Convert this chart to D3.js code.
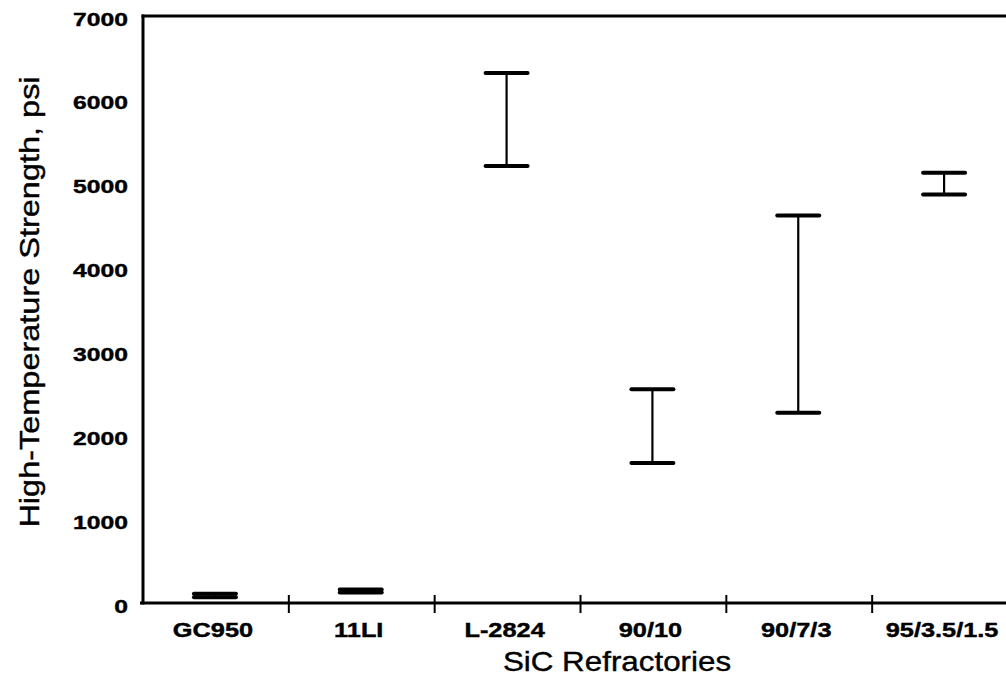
<!DOCTYPE html>
<html>
<head>
<meta charset="utf-8">
<script src="https://cdn.jsdelivr.net/npm/d3@7"></script>
<style>
  html, body { margin: 0; padding: 0; background: #fff; }
  svg { display: block; }
  text { font-family: "Liberation Sans", Arial, Helvetica, sans-serif; fill: #000; }
</style>
</head>
<body>
<svg id="chart" width="1006" height="685"></svg>
<script>
const categories = ["GC950", "11LI", "L-2824", "90/10", "90/7/3", "95/3.5/1.5"];
const lowValues  = [70, 125, 5210, 1670, 2270, 4870];
const highValues = [110, 160, 6320, 2550, 4620, 5130];
const yTicks = [0, 1000, 2000, 3000, 4000, 5000, 6000, 7000];
const xTitle = "SiC Refractories";
const yTitle = "High-Temperature Strength, psi";

const svg = d3.select("#chart");
const mLeft = 143, mRight = 1018, mTop = 16, mBottom = 603;

const x = d3.scaleBand().domain(categories).range([mLeft, mRight]).padding(0);
const y = d3.scaleLinear().domain([0, 7000]).range([mBottom, mTop]);

// frame: left axis, top border
svg.append("line").attr("x1", mLeft).attr("x2", mLeft).attr("y1", mTop - 1.5).attr("y2", mBottom + 1.5)
  .attr("stroke", "#000").attr("stroke-width", 3);
svg.append("line").attr("x1", mLeft - 1.5).attr("x2", 1006).attr("y1", mTop).attr("y2", mTop)
  .attr("stroke", "#000").attr("stroke-width", 3);

// bottom axis
svg.append("line").attr("x1", mLeft - 3).attr("x2", 1006).attr("y1", mBottom).attr("y2", mBottom)
  .attr("stroke", "#000").attr("stroke-width", 3);
const boundaries = categories.slice(1).map(c => x(c));
svg.selectAll(".xtick").data(boundaries).enter().append("line")
  .attr("x1", d => d).attr("x2", d => d).attr("y1", mBottom - 8).attr("y2", mBottom + 10)
  .attr("stroke", "#000").attr("stroke-width", 2);

// x tick labels
svg.selectAll(".xlab").data(categories).enter().append("text")
  .attr("transform", d => `translate(${x(d) + x.bandwidth() / 2 - 3},637) scale(1.3,1)`)
  .attr("text-anchor", "middle").attr("font-size", 19.5).attr("font-weight", "bold")
  .attr("stroke", "#000").attr("stroke-width", 0.4)
  .text(d => d);

// y tick labels
svg.selectAll(".ylab").data(yTicks).enter().append("text")
  .attr("transform", d => `translate(128,${y(d) + 9.5}) scale(1.3,1)`)
  .attr("text-anchor", "end").attr("font-size", 19).attr("font-weight", "bold")
  .attr("stroke", "#000").attr("stroke-width", 0.4)
  .text(d => d);

// error bars
const capHalf = 21;
const g = svg.append("g");
categories.forEach((c, i) => {
  const cx = x(c) + x.bandwidth() / 2 - 1;
  g.append("line").attr("x1", cx).attr("x2", cx)
    .attr("y1", y(lowValues[i])).attr("y2", y(highValues[i]))
    .attr("stroke", "#000").attr("stroke-width", 2.2);
  [lowValues[i], highValues[i]].forEach(v => {
    g.append("line").attr("x1", cx - capHalf).attr("x2", cx + capHalf)
      .attr("y1", y(v)).attr("y2", y(v))
      .attr("stroke", "#000").attr("stroke-width", 4).attr("stroke-linecap", "round");
  });
});

// axis titles
svg.append("text")
  .attr("transform", "translate(617,671) scale(1.12,1)")
  .attr("text-anchor", "middle").attr("font-size", 28)
  .attr("stroke", "#000").attr("stroke-width", 0.4)
  .text(xTitle);
svg.append("text")
  .attr("transform", "translate(39,302) rotate(-90) scale(1.16,1)")
  .attr("text-anchor", "middle").attr("font-size", 28)
  .attr("stroke", "#000").attr("stroke-width", 0.4)
  .text(yTitle);
</script>
</body>
</html>
